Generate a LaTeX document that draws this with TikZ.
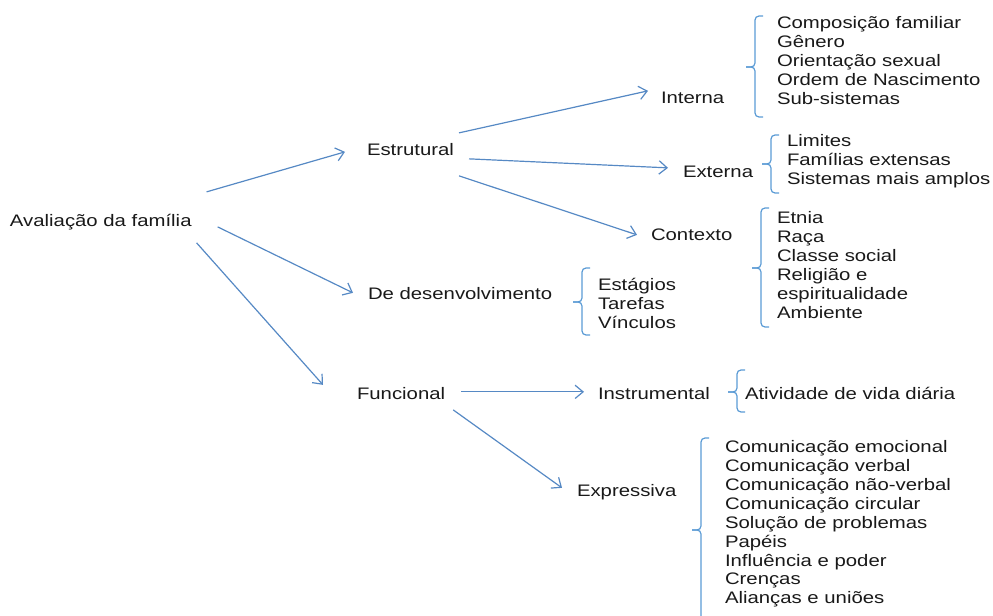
\documentclass[tikz,border=0pt]{standalone}
\usepackage{fontspec}
\setmainfont[FakeStretch=1.22]{Liberation Sans}
\usetikzlibrary{arrows.meta}
\definecolor{arrblue}{HTML}{5689C4}
\definecolor{brkblue}{HTML}{5B9BD5}
\newcommand{\mybrk}[4]{% x, top, mid, bottom
  \draw[brk] (#1+8,#2) -- (#1,#2) -- (#1,#3) -- (#1-9,#3);
  \draw[brk] (#1+8,#4) -- (#1,#4) -- (#1,#3) -- (#1-9,#3);
}
\begin{document}
\begin{tikzpicture}[x=0.75pt,y=-0.75pt,
  lbl/.style={anchor=west,inner sep=0pt,outer sep=0pt,align=left,yshift=-1.4pt,
    font=\fontsize{12.5}{14.2}\selectfont,text=black!90},
  arr/.style={draw=arrblue,line width=0.9pt,-{Straight Barb[length=6pt,width=10pt]}},
  brk/.style={draw=brkblue,line width=0.9pt,rounded corners=3pt}]
\useasboundingbox (0,0) rectangle (993,616);
% main nodes
\node[lbl] (aval) at (10,220) {Avaliação da família};
\node[lbl] (estr) at (367,148) {Estrutural};
\node[lbl] (desv) at (368,292) {De desenvolvimento};
\node[lbl] (func) at (357,392) {Funcional};
\node[lbl] (intr) at (661,96) {Interna};
\node[lbl] (extr) at (683,170) {Externa};
\node[lbl] (ctxt) at (651,233) {Contexto};
\node[lbl] (inst) at (598,392) {Instrumental};
\node[lbl] (expr) at (577,490) {Expressiva};
% lists
\node[lbl] (lintr) at (777,59) {Composição familiar\\Gênero\\Orientação sexual\\Ordem de Nascimento\\Sub-sistemas};
\node[lbl] (lextr) at (787,159) {Limites\\Famílias extensas\\Sistemas mais amplos};
\node[lbl] (lctxt) at (777,263) {Etnia\\Raça\\Classe social\\Religião e\\espiritualidade\\Ambiente};
\node[lbl] (ldesv) at (598,302) {Estágios\\Tarefas\\Vínculos};
\node[lbl] (linst) at (745,392) {Atividade de vida diária};
\node[lbl] (lexpr) at (725,522) {Comunicação emocional\\Comunicação verbal\\Comunicação não-verbal\\Comunicação circular\\Solução de problemas\\Papéis\\Influência e poder\\Crenças\\Alianças e uniões};
% arrows
\draw[arr] ([shift={(15,-30)}]aval.east) -- ([shift={(-22,2)}]estr.west);
\draw[arr] ([shift={(26,5)}]aval.east) -- ([shift={(-15,-1)}]desv.west);
\draw[arr] ([shift={(5,21)}]aval.east) -- ([shift={(-34,-9)}]func.west);
\draw[arr] ([shift={(5,-17)}]estr.east) -- ([shift={(-13,-7)}]intr.west);
\draw[arr] ([shift={(15,9)}]estr.east) -- ([shift={(-15,-4)}]extr.west);
\draw[arr] ([shift={(5,26)}]estr.east) -- ([shift={(-14,0)}]ctxt.west);
\draw[arr] ([shift={(16,-2)}]func.east) -- ([shift={(-14,-2)}]inst.west);
\draw[arr] ([shift={(8,16)}]func.east) -- ([shift={(-15,-4)}]expr.west);
% brackets
\mybrk{755}{16}{67}{117}
\mybrk{771}{135}{164}{193}
\mybrk{761}{208}{268}{327}
\mybrk{582}{268}{302}{335}
\mybrk{737}{370}{392}{412}
\mybrk{701}{438}{530}{622}
\end{tikzpicture}
\end{document}
